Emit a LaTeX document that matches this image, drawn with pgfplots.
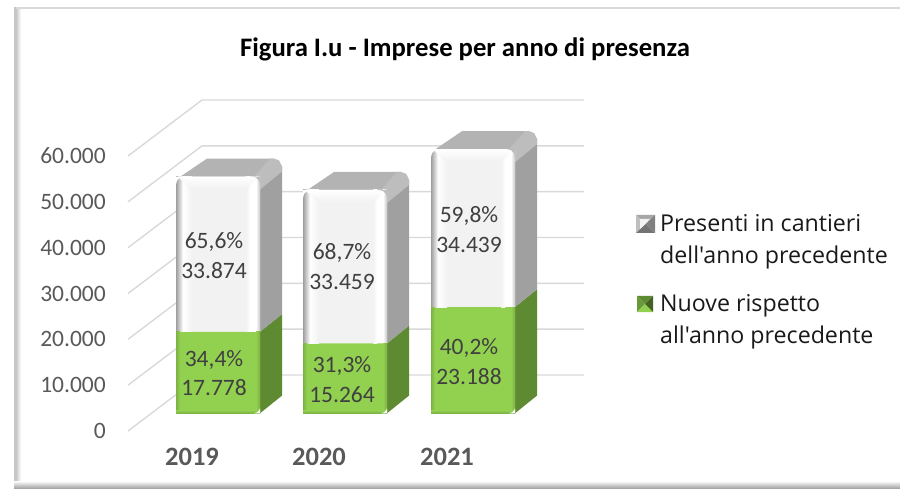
\documentclass[border=0pt]{standalone}
\usepackage{pgfplots}
\pgfplotsset{compat=1.18}
\usepackage{fontspec}
\setmainfont[Ligatures=NoCommon]{Carlito}
\newfontfamily\legfont{Open Sans}
\definecolor{txt}{HTML}{404040}
\definecolor{tickc}{HTML}{595959}
\definecolor{gridc}{HTML}{D9D9D9}
\definecolor{gfront}{HTML}{92D050}
\definecolor{gside}{HTML}{5E8A32}
\definecolor{wfront}{HTML}{F2F2F2}
\definecolor{wside}{HTML}{A0A0A0}
\definecolor{wtop}{HTML}{B3B3B3}
\definecolor{wband}{HTML}{BDBDBD}
\pgfplotsset{
  base/.style={at={(128pt,57pt)},anchor=south west,scale only axis,
    width=382pt,height=275pt,xmin=128,xmax=510,ymin=0,ymax=60000,clip=false}}
% polygon through pgfplots, coordinates fully expanded
\newcommand\poly[2]{\edef\tmp{\noexpand\addplot[draw=none,#1] coordinates {#2} --cycle;}\tmp}
\def\D{3862}% depth of a bar, in y units
\def\base{3862}% bars stand this far behind the front edge of the floor
\newcommand\setbar[3]{\def\xo{#1}\edef\ym{\the\numexpr\base+#2\relax}\edef\yt{\the\numexpr\ym+#3\relax}}
\def\X#1{\the\numexpr\xo+#1\relax}
\def\T#1{\the\numexpr\yt+(#1)*21818/100\relax}
\def\B#1{\the\numexpr\base+(#1)*21818/100\relax}
% side and top faces
\newcommand\sides{%
  \poly{fill=gside}{(\X{84},\base)(\X{106},\the\numexpr\base+\D\relax)(\X{106},\the\numexpr\ym+\D\relax)(\X{84},\ym)}%
  \poly{fill=wside}{(\X{84},\ym)(\X{106},\the\numexpr\ym+\D\relax)(\X{106},\T{10})(\X{84},\yt)}%
  \poly{fill=wtop}{(\X{3},\T{-1})(\X{31},\T{18})(\X{97},\T{18})(\X{103},\T{16})(\X{106},\T{10})(\X{84},\T{0})}%
  \poly{fill=wband}{(\X{78},\T{0})(\X{94},\T{18})(\X{98},\T{18})(\X{103},\T{16})(\X{106},\T{10})(\X{106},\T{5})(\X{84},\T{-13})}%
}
% bevels on the front faces
\newcommand\bevels{%
  \poly{left color=wfront,right color=white}{(\X{70},\ym)(\X{74},\ym)(\X{74},\yt)(\X{70},\yt)}%
  \poly{fill=white}{(\X{74},\ym)(\X{80},\ym)(\X{80},\yt)(\X{74},\yt)}%
  \poly{left color=white,right color=black!22}{(\X{80},\ym)(\X{84},\ym)(\X{84},\yt)(\X{80},\yt)}%
  \poly{left color=black!38,right color=white}{(\X{0},\ym)(\X{7},\ym)(\X{7},\yt)(\X{0},\yt)}%
  \poly{left color=white,right color=wfront}{(\X{7},\ym)(\X{16},\ym)(\X{16},\yt)(\X{7},\yt)}%
  \poly{top color=white,bottom color=wfront}{(\X{2},\T{0})(\X{82},\T{0})(\X{72},\T{-12})(\X{14},\T{-12})}%
  \poly{fill=white}{(\X{0},\T{0})(\X{8},\T{0})(\X{4},\T{-1})(\X{1},\T{-4})(\X{0},\T{-8})}%
  \poly{fill=wband}{(\X{84},\T{0})(\X{76},\T{0})(\X{80},\T{-1})(\X{83},\T{-4})(\X{84},\T{-8})}%
  % green
  \poly{left color=gfront!85!black,right color=gfront}{(\X{0},\base)(\X{4},\base)(\X{4},\ym)(\X{0},\ym)}%
  \poly{left color=gfront,right color=gfront!85!black}{(\X{80},\base)(\X{84},\base)(\X{84},\ym)(\X{80},\ym)}%
  \poly{top color=gfront,bottom color=gfront!85!black}{(\X{0},\B{3})(\X{84},\B{3})(\X{84},\B{0})(\X{0},\B{0})}%
  \poly{fill=white}{(\X{84},\B{0})(\X{78},\B{0})(\X{81},\B{1})(\X{83},\B{3})(\X{84},\B{5})}%
}
\begin{document}
\begin{tikzpicture}
\path[use as bounding box] (0,0) rectangle (900pt,488pt);
\begin{scope}[x=1pt,y=-1pt,yshift=488pt]
  \fill[white] (0,0) rectangle (900,488);
  \fill[gridc] (14,7) rectangle (900,9.5);
  \fill[black!22] (14,7) rectangle (16,488);
  \shade[left color=black!22,right color=white] (16,9.5) rectangle (21,488);
  \shade[top color=white,bottom color=black!35] (14,481) rectangle (900,488);
\end{scope}
% floor and walls, tick labels, side faces
\begin{axis}[base,
  axis line style={draw=none},tick style={draw=none},
  xtick={192,319,447},xticklabels={2019,2020,2021},
  x tick label style={font=\fontsize{26.5}{28}\selectfont\bfseries,text=tickc,inner sep=0pt,yshift=-17pt},
  ytick={0,10000,20000,30000,40000,50000,60000},
  scaled y ticks=false,
  y tick label style={font=\fontsize{23.5}{28}\selectfont,text=tickc,inner sep=0pt,xshift=-22pt},
  /pgf/number format/.cd,1000 sep={.},assume math mode=true]
  \pgfplotsinvokeforeach{0,10000,20000,30000,40000,50000,60000}{
    \addplot[gridc,line width=1.4pt] coordinates {(128,#1)(202,\the\numexpr#1+12218\relax)(584,\the\numexpr#1+12218\relax)};
  }
  \setbar{176}{17778}{33874}\sides
  \setbar{303}{15264}{33459}\sides
  \setbar{431}{23188}{34439}\sides
\end{axis}
% front faces: stacked values on the bars' floor offset
\begin{axis}[base,hide axis,ybar stacked,bar width=84pt,bar shift=26pt]
  \addplot[draw=none,fill=none] coordinates {(192,3862)(319,3862)(447,3862)};
  \addplot[draw=none,fill=gfront] coordinates {(192,17778)(319,15264)(447,23188)};
  \addplot[draw=none,fill=wfront] coordinates {(192,33874)(319,33459)(447,34439)};
\end{axis}
\begin{axis}[base,hide axis]
  \setbar{176}{17778}{33874}\bevels
  \setbar{303}{15264}{33459}\bevels
  \setbar{431}{23188}{34439}\bevels
\end{axis}
\begin{scope}[x=1pt,y=-1pt,yshift=488pt]
  \tikzset{lab/.style={font=\fontsize{23.5}{28}\selectfont,text=txt,inner sep=0pt,anchor=center},
           leg/.style={font=\legfont\fontsize{23.2}{26}\selectfont,text=black!90,inner sep=0pt,anchor=base west}}
  \node[font=\fontsize{26.7}{30}\selectfont\bfseries,inner sep=0pt] at (465,49) {Figura I.u - Imprese per anno di presenza};
  \node[lab] at (214,242) {65,6\%}; \node[lab] at (214,271) {33.874};
  \node[lab] at (214,360) {34,4\%}; \node[lab] at (214,388) {17.778};
  \node[lab] at (342,253) {68,7\%}; \node[lab] at (342,282) {33.459};
  \node[lab] at (342,366) {31,3\%}; \node[lab] at (342,395) {15.264};
  \node[lab] at (469,216) {59,8\%}; \node[lab] at (469,245) {34.439};
  \node[lab] at (469,348) {40,2\%}; \node[lab] at (469,377) {23.188};
  % legend
  \node[leg] at (660,232) {Presenti in cantieri};
  \node[leg] at (660,264) {dell\char39 anno precedente};
  \node[leg] at (660,311) {Nuove rispetto};
  \node[leg] at (660,343) {all\char39 anno precedente};
  \fill[black!35] (636,215) -- (655,215) -- (645.5,224) -- cycle;
  \fill[black!25] (636,215) -- (645.5,224) -- (636,233) -- cycle;
  \fill[black!55] (636,233) -- (655,233) -- (645.5,224) -- cycle;
  \fill[black!50] (655,215) -- (655,233) -- (645.5,224) -- cycle;
  \fill[black!5] (640,219) -- (650,219) -- (645.5,224) -- (640,229) -- cycle;
  \fill[gside] (637,296) -- (653,296) -- (645,304) -- cycle;
  \fill[gside!80!gfront] (637,296) -- (645,304) -- (637,312) -- cycle;
  \fill[gfront] (637,312) -- (653,312) -- (645,304) -- cycle;
  \fill[gside!70!black] (653,296) -- (653,312) -- (645,304) -- cycle;
\end{scope}
\end{tikzpicture}
\end{document}
